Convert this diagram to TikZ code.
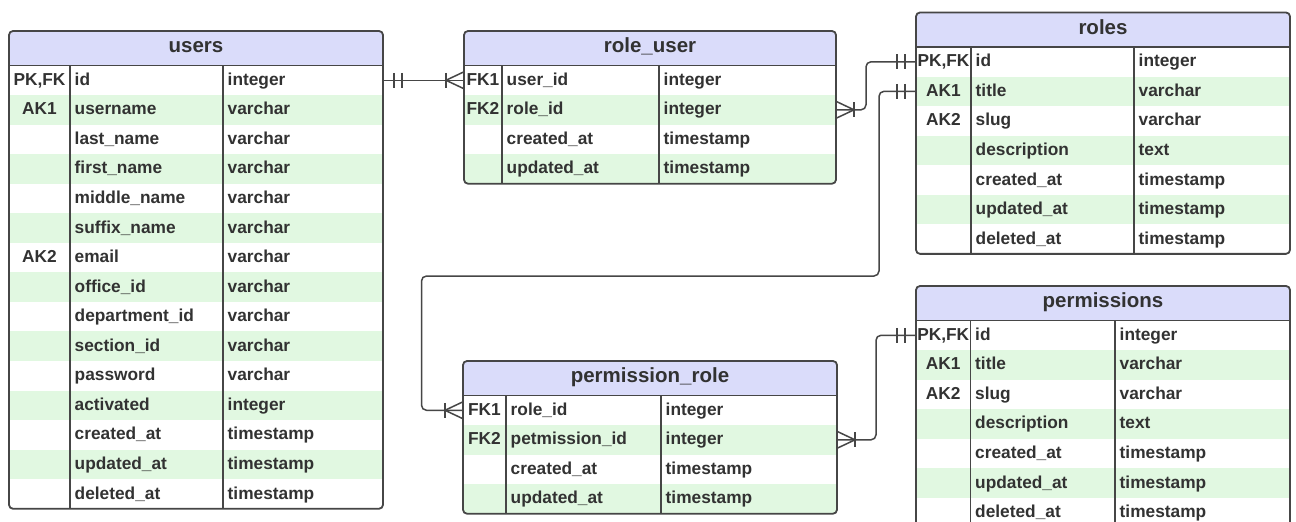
\documentclass[tikz,border=0pt]{standalone}
\usepackage{fontspec}
\setmainfont{Liberation Sans}
\usetikzlibrary{calc}

\definecolor{hdrfill}{RGB}{218,220,250}
\definecolor{rowgreen}{RGB}{225,248,225}
\definecolor{edge}{RGB}{70,70,70}
\definecolor{ink}{RGB}{50,50,50}

\tikzset{
  frame/.style={draw=edge, line width=1.8pt, rounded corners=4pt},
  gridline/.style={draw=edge, line width=1.6pt},
  rowbox/.style={inner sep=0pt, outer sep=0pt, anchor=north west, minimum height=29.55pt},
  celltext/.style={inner sep=0pt, text=ink, font=\bfseries\fontsize{17.3}{20}\selectfont},
  titletext/.style={inner sep=0pt, text=ink, font=\bfseries\fontsize{20.5}{24}\selectfont, anchor=base},
  link/.style={draw=edge, line width=1.5pt, rounded corners=5pt},
  ermark/.style={draw=edge, line width=1.5pt},
}

% \ertable{name}{title}{left}{top}{right}{key|name divider}{name|type divider}{rows}
\newcommand{\ertable}[8]{%
  \pgfmathsetmacro\tbW{#5-#3}%
  \pgfmathsetmacro\tbH{#4+34.5}%
  \pgfmathsetmacro\tbMid{(#3+#5)/2}%
  \foreach \x [count=\c] in {#8} {\xdef\tbN{\c}}%
  \pgfmathsetmacro\tbB{\tbH+\tbN*29.55}%
  \begin{scope}
    \clip[rounded corners=4pt] (#3,#4) rectangle (#5,\tbB);
    \fill[hdrfill] (#3,#4) rectangle (#5,\tbH);
    \foreach \k/\n/\t [count=\i] in {#8} {
      \pgfmathsetmacro\ry{\tbH+(\i-1)*29.55}
      \ifodd\i \def\rc{white}\else \def\rc{rowgreen}\fi
      \node[rowbox, fill=\rc, minimum width=\tbW pt] (#1-\i) at (#3,\ry) {};
      \node[celltext, anchor=base] (#1-k\i) at ({(#3+#6)/2}, \ry+19.8) {\k};
      \node[celltext, anchor=base west] (#1-n\i) at (#6+4.5, \ry+19.8) {\n};
      \node[celltext, anchor=base west] (#1-t\i) at (#7+4.5, \ry+19.8) {\t};
    }
  \end{scope}
  \draw[frame] (#3,#4) rectangle (#5,\tbB);
  \draw[gridline] (#3,\tbH) -- (#5,\tbH);
  \draw[gridline] (#6,\tbH) -- (#6,\tbB);
  \draw[gridline] (#7,\tbH) -- (#7,\tbB);
  \node[titletext] (#1-title) at (\tbMid, \tbH-12.75) {#2};
}

% exactly-one end: two bars; #2 = +1 (line leaves to the right) or -1 (to the left)
\newcommand{\onlyone}[2]{%
  \draw[ermark] ($(#1)+(#2*11,-7.5)$) -- ($(#1)+(#2*11,7.5)$);
  \draw[ermark] ($(#1)+(#2*19,-7.5)$) -- ($(#1)+(#2*19,7.5)$);
}
% one-or-many end: crow's foot plus a bar
\newcommand{\oneormany}[2]{%
  \draw[ermark] ($(#1)+(0,-8.5)$) -- ($(#1)+(#2*18,0)$) -- ($(#1)+(0,8.5)$);
  \draw[ermark] ($(#1)+(#2*18,-7.5)$) -- ($(#1)+(#2*18,7.5)$);
}

\begin{document}
\begin{tikzpicture}[x=1pt, y=-1pt]
  \useasboundingbox (0,0) rectangle (1296,522);
  \clip (0,0) rectangle (1296,522);
  \fill[white] (0,0) rectangle (1296,522);

  \ertable{users}{users}{9}{31}{383}{70}{223}{
    {PK,FK}/id/integer,
    AK1/username/varchar,
    /last\_name/varchar,
    /first\_name/varchar,
    /middle\_name/varchar,
    /suffix\_name/varchar,
    AK2/email/varchar,
    /office\_id/varchar,
    /department\_id/varchar,
    /section\_id/varchar,
    /password/varchar,
    /activated/integer,
    /created\_at/timestamp,
    /updated\_at/timestamp,
    /deleted\_at/timestamp}

  \ertable{roleuser}{role\_user}{464}{31}{836}{502}{659}{
    FK1/user\_id/integer,
    FK2/role\_id/integer,
    /created\_at/timestamp,
    /updated\_at/timestamp}

  \ertable{roles}{roles}{916}{12.5}{1290}{971}{1134}{
    {PK,FK}/id/integer,
    AK1/title/varchar,
    AK2/slug/varchar,
    /description/text,
    /created\_at/timestamp,
    /updated\_at/timestamp,
    /deleted\_at/timestamp}

  \ertable{permrole}{permission\_role}{463}{361}{837}{506}{661}{
    FK1/role\_id/integer,
    FK2/petmission\_id/integer,
    /created\_at/timestamp,
    /updated\_at/timestamp}

  \ertable{perms}{permissions}{916}{286}{1290}{970.5}{1115}{
    {PK,FK}/id/integer,
    AK1/title/varchar,
    AK2/slug/varchar,
    /description/text,
    /created\_at/timestamp,
    /updated\_at/timestamp,
    /deleted\_at/timestamp}

  % users.id -> role_user.user_id
  \draw[link] (users-1.east) -- (roleuser-1.west);
  \onlyone{users-1.east}{1}
  \oneormany{roleuser-1.west}{-1}

  % role_user.role_id -> roles.id
  \draw[link] (roleuser-2.east) -- ++(30,0) |- (roles-1.west);
  \oneormany{roleuser-2.east}{1}
  \onlyone{roles-1.west}{-1}

  % roles.title -> permission_role.role_id
  \coordinate (rp-a) at (879,276);
  \coordinate (rp-b) at (421.5,276);
  \draw[link] (roles-2.west) -| (rp-a) -- (rp-b) |- (permrole-1.west);
  \onlyone{roles-2.west}{-1}
  \oneormany{permrole-1.west}{-1}

  % permission_role.petmission_id -> permissions.id
  \draw[link] (permrole-2.east) -- ++(39,0) |- (perms-1.west);
  \oneormany{permrole-2.east}{1}
  \onlyone{perms-1.west}{-1}
\end{tikzpicture}
\end{document}
